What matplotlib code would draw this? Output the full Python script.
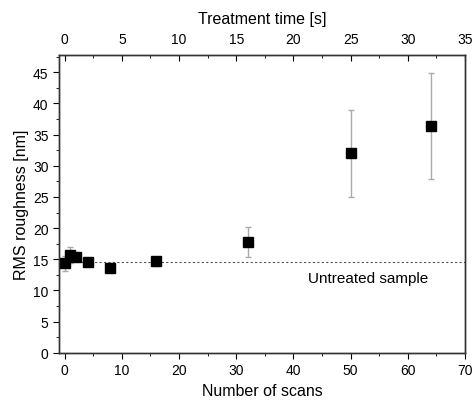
import matplotlib
matplotlib.use("Agg")
import matplotlib.pyplot as plt
from matplotlib.ticker import MultipleLocator

plt.rcParams['font.family'] = ['Liberation Sans', 'DejaVu Sans']

# data
scans = [0, 1, 2, 4, 8, 16, 32, 50, 64]
rms = [14.4, 15.7, 15.3, 14.6, 13.6, 14.7, 17.8, 32.0, 36.4]
rms_err = [1.2, 1.3, 0.5, 0.3, 0.6, 0.7, 2.4, 7.0, 8.5]
untreated = 14.6

fig = plt.figure(figsize=(4.75, 4.1), dpi=100)
ax = fig.add_axes([0.124, 0.137, 0.855, 0.727])

ax.errorbar(scans, rms, yerr=rms_err, fmt='s', color='black', ms=6.5,
            ecolor='#aaaaaa', elinewidth=1, capsize=2.5, capthick=1, zorder=3)
ax.axhline(untreated, color='#555555', ls=(0, (2, 2)), lw=0.8, zorder=1)
ax.text(53, 12.0, 'Untreated sample', ha='center', va='center', fontsize=11)

ax.set_xlim(-1, 70)
ax.set_ylim(0, 47.8)
ax.xaxis.set_major_locator(MultipleLocator(10))
ax.xaxis.set_minor_locator(MultipleLocator(5))
ax.yaxis.set_major_locator(MultipleLocator(5))
ax.yaxis.set_minor_locator(MultipleLocator(2.5))
ax.tick_params(which='both', direction='out', labelsize=10, right=False, top=False)
ax.tick_params(which='major', length=4)
ax.tick_params(which='minor', length=2.5)
ax.set_xlabel('Number of scans', fontsize=11.5, labelpad=4)
ax.set_ylabel('RMS roughness [nm]', fontsize=11.5, labelpad=3)

top = ax.twiny()
top.set_xlim(-0.5, 35)
top.xaxis.set_major_locator(MultipleLocator(5))
top.xaxis.set_minor_locator(MultipleLocator(2.5))
top.tick_params(which='both', direction='in', labelsize=10, pad=6)
top.tick_params(which='major', length=4)
top.tick_params(which='minor', length=2.5)
top.set_xlabel('Treatment time [s]', fontsize=11.5, labelpad=7)

for a in (ax, top):
    for s in a.spines.values():
        s.set_linewidth(1.0)
        s.set_color('#333333')

fig.savefig('out.png', dpi=100)
